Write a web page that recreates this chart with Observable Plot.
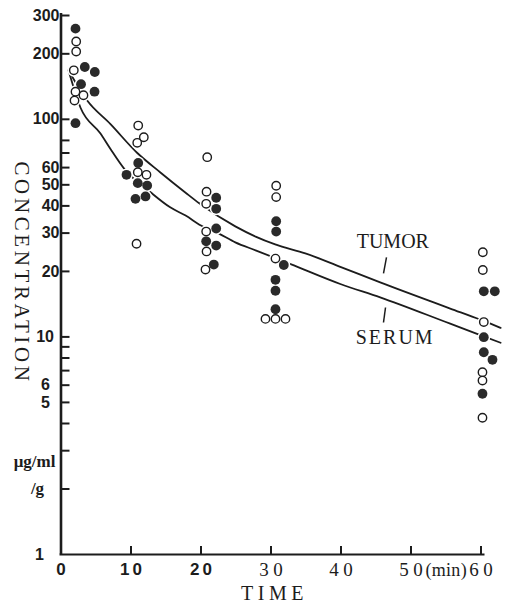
<!DOCTYPE html>
<html>
<head>
<meta charset="utf-8">
<script src="https://cdn.jsdelivr.net/npm/d3@7"></script>
<script src="https://cdn.jsdelivr.net/npm/@observablehq/plot@0.6"></script>
<style>
  html, body { margin: 0; padding: 0; background: #fff; }
  #chart { width: 505px; height: 605px; }
</style>
</head>
<body>
<div id="chart"></div>
<script>
// ---- Measured points (open circles = tumor, filled circles = serum) ----
const tumorTime = [2.17, 2.17, 1.83, 2.07, 3.21, 1.93,
                   11.03, 11.83, 10.89, 10.97, 12.21, 10.79,
                   20.89, 20.79, 20.74, 20.74, 20.79, 20.64,
                   30.74, 30.74, 30.64, 29.21, 30.64, 32.07,
                   60.26, 60.26, 60.4, 60.21, 60.21, 60.21];
const tumorConc = [228, 205, 168, 134, 129, 122,
                   93.6, 82.7, 78, 57.1, 55.6, 26.8,
                   67, 46.5, 40.9, 30.5, 24.7, 20.4,
                   49.5, 43.9, 22.9, 12.1, 12.1, 12.1,
                   24.5, 20.3, 11.7, 6.88, 6.3, 4.25];
const serumTime = [2.07, 3.40, 4.83, 2.86, 4.79, 2.07,
                   11.03, 9.36, 10.97, 12.31, 10.64, 12.07,
                   22.17, 22.17, 22.17, 20.74, 22.17, 21.83,
                   30.74, 30.74, 31.83, 30.64, 30.64, 30.64,
                   60.4, 61.97, 60.4, 60.4, 61.64, 60.21];
const serumConc = [261, 174, 165, 145, 134, 96,
                   63, 55.6, 50.9, 49.6, 43.1, 44.2,
                   43.6, 38.8, 31.5, 27.5, 26.3, 21.5,
                   34, 30.5, 21.4, 18.3, 16.3, 13.4,
                   16.2, 16.2, 9.97, 8.5, 7.85, 5.48];

// ---- Fitted curves ----
const tumorFitTime = [1.07, 3.74, 7.07, 10.9, 14.2, 17.8, 19.8, 24.9, 27.8, 30.6, 34.9, 39.9, 45.6, 55.6, 59.9, 62.8];
const tumorFitConc = [168, 122, 95, 70, 57, 46, 41, 32.2, 28.9, 26.6, 24.2, 21, 17.8, 13.5, 12, 11];
const serumFitTime = [1.07, 2.79, 5.64, 7.07, 9.07, 12.8, 15.6, 17.8, 20, 22.5, 24.9, 27.8, 32.8, 39.9, 45.6, 55.6, 59.9, 62.8];
const serumFitConc = [168, 113, 86, 73, 59, 46.2, 39.4, 36.1, 32.5, 29.9, 27.2, 25, 21.6, 17.5, 15.2, 11.5, 10.2, 9.4];

// ---- Axes ----
const yTickValues = [2, 3, 4, 5, 6, 7, 8, 9, 10, 20, 30, 40, 50, 60, 70, 80, 100, 200, 300];
const yLabelsUpper = [300, 200, 100, 80, 60, 50, 40, 30, 20];
const yLabelsMid = [10];
const yLabelsLow = [8, 6, 5];
const yLabelsBase = [1];
const xTickValues = [10, 20, 30, 40, 50, 60];
const xLabelsSans = [0, 10, 20];
const xLabelsSerif = [30, 40, 50, 60];
const xUnitText = ["(min)"];
const xUnitAt = [55];
const yTitle = ["CONCENTRATION"];
const yUnitLines = ["μg/ml", "/g"];
const xTitle = ["TIME"];

// ---- Curve annotations ----
const curveNames = ["TUMOR", "SERUM"];
const curveNameTime = [47.4, 47.6];
const curveNameConc = [27.4, 9.98];
const leaderTime1 = [46.5, 46.36];
const leaderConc1 = [23.2, 13.65];
const leaderTime2 = [46.07, 46.07];
const leaderConc2 = [19.6, 11.65];

const ink = "#1c1c1c";
const tumorPts = tumorTime.map((t, i) => ({t, c: tumorConc[i]}));
const serumPts = serumTime.map((t, i) => ({t, c: serumConc[i]}));
const allPts = tumorPts.concat(serumPts);
const tumorFit = tumorFitTime.map((t, i) => ({t, c: tumorFitConc[i]}));
const serumFit = serumFitTime.map((t, i) => ({t, c: serumFitConc[i]}));
const names = curveNames.map((n, i) => ({n, t: curveNameTime[i], c: curveNameConc[i]}));
const leaders = curveNames.map((n, i) => ({x1: leaderTime1[i], y1: leaderConc1[i], x2: leaderTime2[i], y2: leaderConc2[i]}));

const sansTick = {tickSize: 0, fontSize: 16, fontWeight: "bold", fontFamily: "Liberation Sans", tickFormat: d => String(d), label: null, fill: ink};
const frameW = 505 - 60.5 - 24.5;
const frameH = 605 - 15 - 51;

const chart = Plot.plot({
  width: 505,
  height: 605,
  marginTop: 15,
  marginBottom: 51,
  marginLeft: 60.5,
  marginRight: 24.5,
  x: {domain: [0, 60], axis: null},
  y: {type: "log", domain: [1, 300], axis: null},
  style: {background: "#fff", color: ink, fontFamily: "Liberation Serif", overflow: "visible"},
  marks: [
    // fitted curves
    Plot.line(tumorFit, {x: "t", y: "c", curve: "monotone-x", stroke: ink, strokeWidth: 1.8}),
    Plot.line(serumFit, {x: "t", y: "c", curve: "monotone-x", stroke: ink, strokeWidth: 1.8}),
    // leader strokes
    Plot.link(leaders, {x1: "x1", y1: "y1", x2: "x2", y2: "y2", stroke: ink, strokeWidth: 1.5}),
    // white halos so the curves break around the dots
    Plot.dot(allPts, {x: "t", y: "c", r: 6.4, fill: "#fff"}),
    Plot.dot(tumorPts, {x: "t", y: "c", r: 4.2, fill: "#fff", stroke: ink, strokeWidth: 1.4}),
    Plot.dot(serumPts, {x: "t", y: "c", r: 4.9, fill: "#2a2a2a"}),
    // axis lines (full frame extent)
    Plot.ruleX([0], {insetTop: -2, stroke: ink, strokeWidth: 2.6}),
    Plot.ruleY([1], {insetLeft: -1, insetRight: -4, stroke: ink, strokeWidth: 2.2}),
    // inward ticks: an axis anchored on the far side, shifted onto the near side
    Plot.axisY(yTickValues, {anchor: "right", tickSize: 8, tickPadding: 0, tickFormat: () => "", label: null, dx: -frameW, stroke: ink, strokeWidth: 2}),
    Plot.axisX(xTickValues, {anchor: "top", tickSize: 9, tickPadding: 0, tickFormat: () => "", label: null, dy: frameH, stroke: ink, strokeWidth: 2}),
    // tick labels
    Plot.axisY(yLabelsUpper, {...sansTick, tickPadding: 1.5}),
    Plot.axisY(yLabelsMid, {...sansTick, tickPadding: 7}),
    Plot.axisY(yLabelsLow, {...sansTick, tickPadding: 11}),
    Plot.axisY(yLabelsBase, {...sansTick, tickPadding: 17}),
    Plot.axisX(xLabelsSans, {tickSize: 0, tickPadding: 8, fontSize: 17, fontWeight: "bold", fontFamily: "Liberation Sans", tickFormat: d => String(d), label: null, fill: ink}),
    Plot.axisX(xLabelsSerif, {tickSize: 0, tickPadding: 8, fontSize: 19, fontFamily: "Liberation Serif", tickFormat: d => String(d), label: null, fill: ink}),
    Plot.text(xUnitText, {x: xUnitAt, frameAnchor: "bottom", textAnchor: "middle", lineAnchor: "top", dy: 8.5, fontSize: 18, fontFamily: "Liberation Serif", fill: ink, text: d => d}),
    // curve names
    Plot.text(names, {x: "t", y: "c", text: "n", fontSize: 20, fontFamily: "Liberation Serif", fill: ink}),
    // titles
    Plot.text(yTitle, {frameAnchor: "left", textAnchor: "middle", lineAnchor: "middle", rotate: 90, dx: -39.5, dy: -12, fontSize: 21, fontFamily: "Liberation Serif", fill: ink, text: d => d}),
    Plot.text([yUnitLines[0]], {frameAnchor: "left", textAnchor: "middle", lineAnchor: "middle", dx: -26.5, dy: 177, fontSize: 17, fontWeight: "bold", fontFamily: "Liberation Serif", fill: ink, text: d => d}),
    Plot.text([yUnitLines[1]], {frameAnchor: "left", textAnchor: "middle", lineAnchor: "middle", dx: -23.5, dy: 204, fontSize: 17, fontWeight: "bold", fontFamily: "Liberation Serif", fill: ink, text: d => d}),
    Plot.text(xTitle, {frameAnchor: "bottom", textAnchor: "middle", lineAnchor: "middle", dx: 3.5, dy: 39.5, fontSize: 20, fontFamily: "Liberation Serif", fill: ink, text: d => d})
  ]
});

document.getElementById("chart").appendChild(chart);

// letter spacing tweaks to match the typewriter-like spacing of the original
const svg = d3.select(chart.tagName.toLowerCase() === "svg" ? chart : chart.querySelector("svg"));
function spaced(txt, ls, dx) {
  svg.selectAll("text").filter(function () { return this.textContent === txt; })
    .attr("letter-spacing", ls).attr("dx", dx);
}
spaced("CONCENTRATION", 3.6, 0);
spaced("TIME", 4.5, 0);
spaced("SERUM", 2, 1);
spaced("(min)", 0.3, 0.2);
svg.selectAll('g[aria-label="x-axis tick label"] text').each(function () {
  const t = this.textContent;
  if (t === "0" || t === "") return;
  const serif = ["30", "40", "50", "60"].includes(t);
  d3.select(this).attr("letter-spacing", serif ? 4.5 : 3).attr("dx", serif ? 2.2 : 1.5);
});
</script>
</body>
</html>
